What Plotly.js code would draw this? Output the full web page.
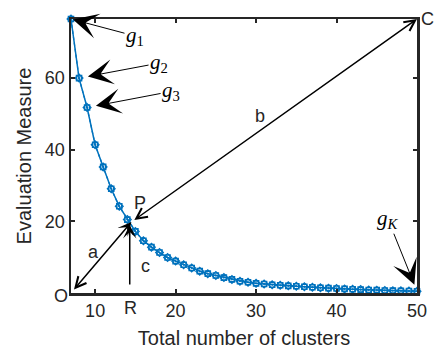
<!DOCTYPE html>
<html>
<head>
<meta charset="utf-8">
<script src="https://cdn.plot.ly/plotly-3.0.1.min.js"></script>
<style>html,body{margin:0;padding:0;background:#fff;}#chart{width:436px;height:349px;}</style>
</head>
<body>
<div id="chart"></div>
<script>
// Data
var clusters = [7,8,9,10,11,12,13,14,15,16,17,18,19,20,21,22,23,24,25,26,27,28,29,30,31,32,33,34,35,36,37,38,39,40,41,42,43,44,45,46,47,48,49,50];
var measure = [76.5,60,51.8,41.4,35.2,29.1,24.2,20.5,17.2,14.6,12.8,11.3,9.9,8.9,7.9,7.0,6.1,5.4,4.9,4.3,3.8,3.3,3.0,2.7,2.5,2.3,2.15,2.0,1.9,1.75,1.6,1.45,1.35,1.25,1.15,1.05,0.95,0.85,0.8,0.7,0.65,0.6,0.55,0.5];
var measure2 = [76.5,60,51.8,41.4,35.2,29.1,24.2,20.5,17.2,14.6,12.8,11.3,9.9,8.9,7.9,7.0,6.1,5.4,4.9,4.3,3.8,3.3,3.0,2.7,2.5,2.3,2.15,2.0,1.9,1.75,1.6,1.45,1.35,1.25,1.15,1.05,0.95,0.85,0.8,0.7,0.65,0.6,0.55,0.5];
var xTicks = [10,20,30,40,50];
var yTicks = [20,40,60];
var pointP = [14.5, 19.8];
var pointR = [14.3, 0];

var blue = '#0072BD';
var ink = '#262626';
var xMin = clusters[0], xMax = clusters[clusters.length-1];
var yMax = measure[0];
var O = [xMin, 0], C = [xMax, yMax];

var traces = [
  {x: clusters, y: measure2, mode: 'lines+markers', type: 'scatter',
   line: {color: blue, width: 1.2, dash: 'dot'},
   marker: {symbol: 'square-open', size: 5, color: blue, line: {width: 1.6, color: blue}},
   hoverinfo: 'skip', cliponaxis: false},
  {x: clusters, y: measure, mode: 'lines+markers', type: 'scatter',
   line: {color: blue, width: 1.5},
   marker: {symbol: 'diamond-open-dot', size: 6, color: blue, line: {width: 1.2, color: blue}},
   hoverinfo: 'skip', cliponaxis: false}
];

var sans = 'Liberation Sans, Arial, sans-serif';
var serif = 'Liberation Serif, DejaVu Serif, serif';
function gLabel(text, idx, ax, ay, standoff) {
  return {x: clusters[idx], y: measure[idx], xref: 'x', yref: 'y',
    text: text, showarrow: true, ax: ax, ay: ay,
    arrowhead: 3, arrowsize: 4.2, arrowwidth: 1, arrowcolor: '#000', standoff: standoff,
    font: {family: serif, size: 21, color: '#000'}};
}
function label(t, x, y) {
  return {x: x, y: y, xref: 'paper', yref: 'paper', text: t, showarrow: false,
    font: {family: sans, size: 18, color: ink}, xanchor: 'center', yanchor: 'middle'};
}
var annotations = [
  gLabel('<i>g</i><sub>1</sub>', 0, 64, 17, 2),
  gLabel('<i>g</i><sub>2</sub>', 1, 80, -15, 9),
  gLabel('<i>g</i><sub>3</sub>', 2, 84, -16, 9),
  gLabel('<i>g</i><sub><i>K</i></sub>', clusters.length-1, -29, -72, 7),
  // a : O <-> P
  {x: pointP[0], y: pointP[1], ax: O[0], ay: O[1], xref: 'x', yref: 'y', axref: 'x', ayref: 'y',
   showarrow: true, text: ' ', arrowside: 'end+start', arrowhead: 3, arrowsize: 1.5, arrowwidth: 1.5,
   startarrowhead: 5, startarrowsize: 1.4, arrowcolor: '#000'},
  // b : P <-> C
  {x: C[0], y: C[1], ax: pointP[0], ay: pointP[1], xref: 'x', yref: 'y', axref: 'x', ayref: 'y',
   showarrow: true, text: ' ', arrowside: 'end+start', arrowhead: 5, arrowsize: 1.4, arrowwidth: 1.5,
   startarrowhead: 5, startarrowsize: 1.4, arrowcolor: '#000'},
  // c : R -> P
  {x: pointP[0] - 0.2, y: pointP[1] - 0.8, ax: pointR[0], ay: pointR[1], xref: 'x', yref: 'y', axref: 'x', ayref: 'y',
   showarrow: true, text: ' ', arrowhead: 3, arrowsize: 1.5, arrowwidth: 1.5, arrowcolor: '#000'},
  label('O', -0.028, -0.01),
  label('C', 1.03, 1.0),
  label('P', 0.2, 0.33),
  label('a', 0.066, 0.148),
  label('b', 0.545, 0.645),
  label('c', 0.215, 0.10),
  label('R', 0.172, -0.055)
];

var layout = {
  width: 436, height: 349,
  margin: {l: 71, r: 19, t: 19, b: 56},
  paper_bgcolor: '#fff', plot_bgcolor: '#fff',
  showlegend: false,
  font: {family: sans, color: ink},
  xaxis: {range: [xMin, xMax], tickvals: xTicks, ticktext: xTicks.map(String),
    ticks: 'inside', ticklen: 4, tickwidth: 2, tickcolor: ink,
    showline: true, linewidth: 2.5, linecolor: ink, mirror: 'ticks',
    showgrid: false, zeroline: false,
    tickfont: {family: sans, size: 18, color: ink},
    title: {text: 'Total number of clusters', font: {family: sans, size: 20, color: ink}, standoff: 11}},
  yaxis: {range: [0, yMax], tickvals: yTicks, ticktext: yTicks.map(String),
    ticks: 'inside', ticklen: 4, tickwidth: 2, tickcolor: ink,
    showline: true, linewidth: 2.5, linecolor: ink, mirror: 'ticks',
    showgrid: false, zeroline: false,
    tickfont: {family: sans, size: 18, color: ink},
    title: {text: 'Evaluation Measure', font: {family: sans, size: 20, color: ink}, standoff: 8}},
  annotations: annotations
};

Plotly.newPlot('chart', traces, layout, {staticPlot: true, displayModeBar: false});
</script>
</body>
</html>
